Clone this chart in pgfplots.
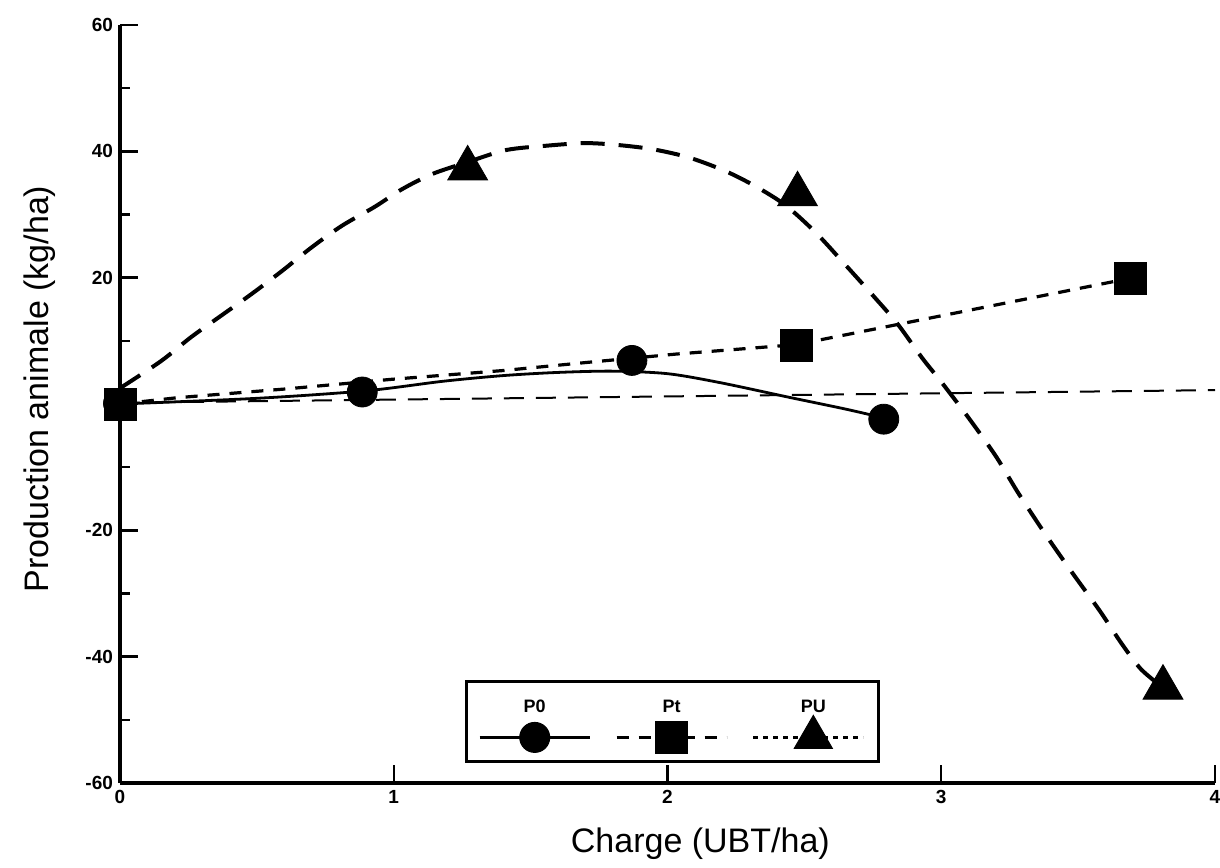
\documentclass[border=0pt]{standalone}
\usepackage{pgfplots}
\pgfplotsset{compat=1.18}
\usepackage{fontspec}
\setmainfont{Liberation Sans}
\begin{document}
\begin{tikzpicture}
\useasboundingbox (-60pt,-42pt) rectangle (550pt,391.5pt);
\begin{axis}[
  scale only axis,
  width=547.5pt, height=379pt,
  xmin=0, xmax=4, ymin=-60, ymax=60,
  axis x line*=bottom, axis y line*=left,
  axis line style={line width=1.6pt},
  xtick={0,1,2,3,4}, ytick={-60,-40,-20,0,20,40,60},
  minor y tick num=1,
  tick align=inside,
  major tick length=9pt, minor tick length=5pt,
  every tick/.style={black, line width=1.2pt},
  tick label style={font=\bfseries\fontsize{9.5}{10}\selectfont},
  /pgf/number format/assume math mode=true,
  clip=false,
  xlabel={Charge (UBT/ha)},
  ylabel={Production animale (kg/ha)},
  label style={font=\fontsize{17}{19}\selectfont},
  xlabel style={at={(axis description cs:0.53,-0.08)}, anchor=center},
  ylabel style={at={(axis description cs:-0.073,0.52)}, anchor=center},
  legend columns=3,
  legend style={at={(0.315,0.136)}, anchor=north west, draw=black, line width=1.5pt,
    inner xsep=6pt, inner ysep=4pt, nodes={inner sep=0pt},
    /tikz/every even column/.append style={column sep=11pt}},
]
% reference line
\addplot[black, line width=1pt, dash pattern=on 10pt off 6pt, forget plot]
  coordinates {(0,0.2) (4,2.2)};
% P0 fitted curve
\addplot[black, line width=1.4pt, smooth, forget plot] coordinates {
  (0,0) (0.5,0.9) (0.9,2.1) (1.18,3.6) (1.4,4.5) (1.6,5.0) (1.8,5.2)
  (2.0,4.8) (2.19,3.4) (2.44,1.1) (2.65,-0.8) (2.79,-2.2)};
% Pt fitted curve
\addplot[black, line width=1.6pt, dash pattern=on 6pt off 5pt, forget plot] coordinates {
  (0,0) (0.21,1.0) (0.61,2.4) (0.99,3.9) (1.4,5.3) (1.71,6.6) (2.03,7.9)
  (2.47,9.4) (3.69,19.9)};
% PU fitted curve
\addplot[black, line width=2pt, dash pattern=on 12pt off 7pt, smooth, forget plot] coordinates {
  (0,2.5) (0.15,6.8) (0.26,10.6) (0.37,14) (0.48,17.4) (0.59,21) (0.70,24.8)
  (0.81,28.2) (0.93,31.2) (1.03,34) (1.14,36.4) (1.27,38.3) (1.41,40.2)
  (1.56,40.9) (1.70,41.3) (1.82,41) (1.95,40.3) (2.08,39) (2.21,36.9)
  (2.32,34.5) (2.43,31.5) (2.54,27.2) (2.64,22.5) (2.75,17.2) (2.84,12.7)
  (2.93,7.3) (3.0,3.5) (3.1,-2.2) (3.2,-8.3) (3.28,-14.0) (3.38,-20.6)
  (3.48,-26.8) (3.58,-32.8) (3.66,-38) (3.73,-42) (3.81,-44.9)};
% observed points
\addplot[only marks, mark=*, mark size=7.5pt, black, forget plot] coordinates {
  (0,0) (0.885,1.9) (1.87,6.9) (2.79,-2.4)};
\addplot[only marks, mark=square*, mark size=8pt, black, forget plot] coordinates {
  (0,0) (2.47,9.2) (3.69,19.9)};
\addplot[only marks, mark=triangle*, mark size=11.5pt, black, forget plot] coordinates {
  (1.27,37.3) (2.475,33.2) (3.81,-44.9)};
% legend
\addlegendimage{legend image code/.code={
  \path[draw=none, fill=none] (0pt,-8pt) rectangle (55pt,24pt);
  \draw[black, line width=1.3pt] (0pt,0pt) -- (55pt,0pt);
  \draw[black, fill=black, line width=0.5pt] plot[mark=*, mark size=7.5pt] coordinates {(27.5pt,0pt)};
  \node[draw=none, font=\bfseries\fontsize{9}{10}\selectfont] at (27.5pt,15pt) {P0};
}}
\addlegendentry{}
\addlegendimage{legend image code/.code={
  \path[draw=none, fill=none] (0pt,-8pt) rectangle (55pt,24pt);
  \draw[black, line width=1.5pt, dash pattern=on 6pt off 5pt] (0pt,0pt) -- (55pt,0pt);
  \draw[black, fill=black, line width=0.5pt] plot[mark=square*, mark size=8pt] coordinates {(27.5pt,0pt)};
  \node[draw=none, font=\bfseries\fontsize{9}{10}\selectfont] at (27.5pt,15pt) {Pt};
}}
\addlegendentry{}
\addlegendimage{legend image code/.code={
  \path[draw=none, fill=none] (0pt,-8pt) rectangle (55pt,24pt);
  \draw[black, line width=1.3pt, dash pattern=on 2.5pt off 2.5pt] (0pt,0pt) -- (55pt,0pt);
  \draw[black, fill=black, line width=0.5pt] plot[mark=triangle*, mark size=11pt] coordinates {(30pt,0pt)};
  \node[draw=none, font=\bfseries\fontsize{9}{10}\selectfont] at (30pt,15pt) {PU};
}}
\addlegendentry{}
\end{axis}
\end{tikzpicture}
\end{document}
